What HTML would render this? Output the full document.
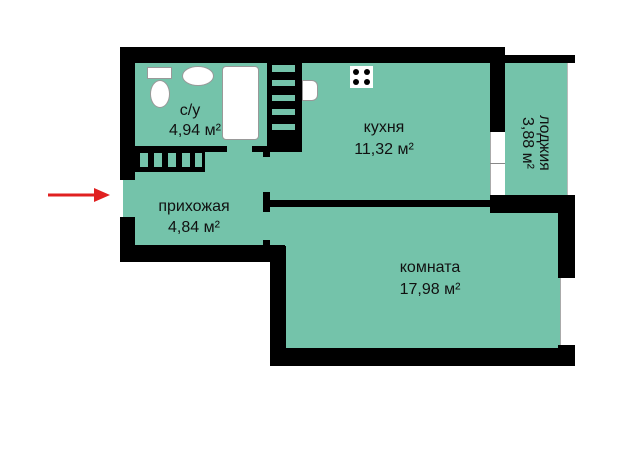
<!DOCTYPE html><html><head><meta charset="utf-8"><style>
body{margin:0;width:630px;height:449px;background:#fff;position:relative;overflow:hidden;font-family:"Liberation Sans",sans-serif}
div{position:absolute}
.b{background:#000}.t{background:#74c3aa}.w{background:#fff}
.txt{font-size:15px;color:#111;text-align:center;white-space:nowrap;line-height:18px}
</style></head><body>
<!-- floors -->
<div class="t" style="left:135px;top:63px;width:355px;height:140px"></div>
<div class="t" style="left:123px;top:150px;width:170px;height:100px"></div>
<div class="t" style="left:280px;top:205px;width:280px;height:145px"></div>
<div class="t" style="left:505px;top:63px;width:62px;height:132px"></div>
<!-- walls -->
<div class="b" style="left:120px;top:47px;width:385px;height:16px"></div>
<div class="b" style="left:505px;top:55px;width:70px;height:8px"></div>
<div class="b" style="left:120px;top:47px;width:15px;height:133px"></div>
<div class="b" style="left:135px;top:146px;width:92px;height:6px"></div>
<div class="b" style="left:135px;top:150px;width:70px;height:22px"></div>
<div class="t" style="left:140px;top:153px;width:8px;height:14px"></div>
<div class="t" style="left:154px;top:153px;width:8px;height:14px"></div>
<div class="t" style="left:168px;top:153px;width:8px;height:14px"></div>
<div class="t" style="left:182px;top:153px;width:8px;height:14px"></div>
<div class="t" style="left:195px;top:153px;width:7px;height:14px"></div>
<div class="b" style="left:252px;top:146px;width:18px;height:6px"></div>
<div class="b" style="left:263px;top:146px;width:7px;height:11px"></div>
<!-- shaft -->
<div class="b" style="left:267px;top:63px;width:35px;height:89px"></div>
<div class="t" style="left:272px;top:65px;width:23px;height:7px"></div>
<div class="t" style="left:272px;top:80px;width:23px;height:6px"></div>
<div class="t" style="left:272px;top:95px;width:23px;height:6px"></div>
<div class="t" style="left:272px;top:109px;width:23px;height:6px"></div>
<div class="t" style="left:272px;top:124px;width:23px;height:6px"></div>
<!-- kitchen right wall & windows -->
<div class="b" style="left:490px;top:63px;width:15px;height:69px"></div>
<div class="w" style="left:490px;top:132px;width:15px;height:63px;border-left:1px solid #aaa;box-sizing:border-box"></div>
<div style="left:490px;top:163px;width:15px;height:1px;background:#888"></div>
<div class="w" style="left:567px;top:63px;width:8px;height:132px;border-left:1px solid #bbb;box-sizing:border-box"></div>
<!-- divider -->
<div class="b" style="left:263px;top:192px;width:7px;height:20px"></div>
<div class="b" style="left:270px;top:200px;width:220px;height:7px"></div>
<div class="b" style="left:490px;top:195px;width:85px;height:18px"></div>
<!-- room walls -->
<div class="b" style="left:558px;top:213px;width:17px;height:65px"></div>
<div class="w" style="left:560px;top:278px;width:15px;height:67px;border-left:1px solid #aaa;box-sizing:border-box"></div>
<div class="b" style="left:558px;top:345px;width:17px;height:5px"></div>
<div class="b" style="left:270px;top:348px;width:305px;height:18px"></div>
<div class="b" style="left:270px;top:246px;width:16px;height:120px"></div>
<div class="b" style="left:120px;top:245px;width:165px;height:17px"></div>
<div class="b" style="left:120px;top:217px;width:15px;height:45px"></div>
<div class="b" style="left:263px;top:240px;width:7px;height:10px"></div>
<!-- fixtures -->
<div class="w" style="left:147px;top:67px;width:25px;height:12px;border:1px solid #999;box-sizing:border-box"></div>
<div class="w" style="left:150px;top:80px;width:20px;height:28px;border-radius:50%;border:1px solid #999;box-sizing:border-box"></div>
<div class="w" style="left:182px;top:66px;width:32px;height:20px;border-radius:50%;border:1px solid #999;box-sizing:border-box"></div>
<div class="w" style="left:222px;top:66px;width:37px;height:74px;border-radius:4px;border:1px solid #999;box-sizing:border-box"></div>
<div class="w" style="left:302px;top:80px;width:16px;height:21px;border-radius:0 6px 6px 0;border:1px solid #999;box-sizing:border-box"></div>
<div class="w" style="left:350px;top:66px;width:23px;height:22px"></div>
<div class="b" style="left:353px;top:69px;width:6px;height:6px;border-radius:50%"></div>
<div class="b" style="left:364px;top:69px;width:6px;height:6px;border-radius:50%"></div>
<div class="b" style="left:353px;top:79px;width:6px;height:6px;border-radius:50%"></div>
<div class="b" style="left:364px;top:79px;width:6px;height:6px;border-radius:50%"></div>
<!-- labels -->
<div class="txt" style="left:170px;top:102px;width:40px;font-size:16px">с/у</div>
<div class="txt" style="left:150px;top:122px;width:90px;font-size:16px">4,94 м²</div>
<div class="txt" style="left:144px;top:198px;width:100px;font-size:16px">прихожая</div>
<div class="txt" style="left:144px;top:219px;width:100px;font-size:16px">4,84 м²</div>
<div class="txt" style="left:334px;top:119px;width:100px;font-size:16px">кухня</div>
<div class="txt" style="left:334px;top:141px;width:100px;font-size:16px">11,32 м²</div>
<div class="txt" style="left:380px;top:259px;width:100px;font-size:16px">комната</div>
<div class="txt" style="left:380px;top:281px;width:100px;font-size:16px">17,98 м²</div>
<div class="txt" style="left:486px;top:126px;width:100px;transform:rotate(90deg);line-height:17px;font-size:16px">лоджия<br>3,88 м²</div>
<!-- arrow -->
<svg style="position:absolute;left:0;top:0" width="630" height="449"><line x1="48" y1="195" x2="96" y2="195" stroke="#e02020" stroke-width="3"/><polygon points="94,188 110,195 94,202" fill="#e02020"/></svg>
</body></html>
